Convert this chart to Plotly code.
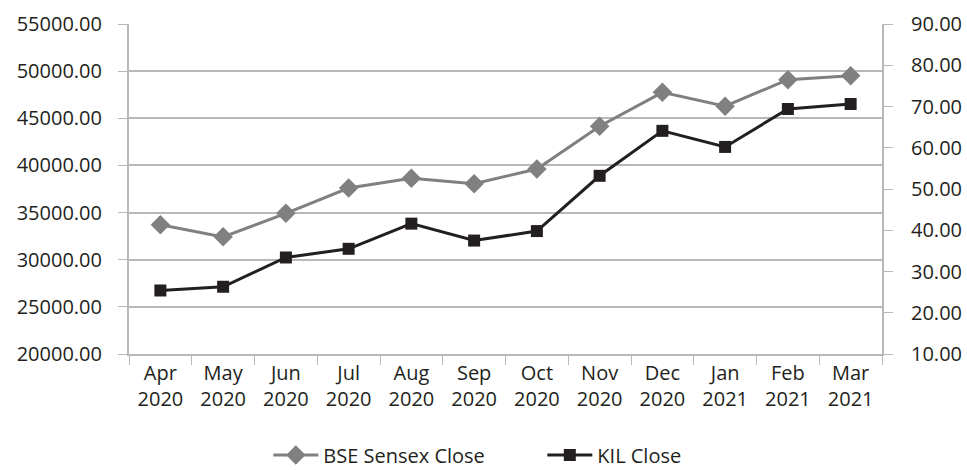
import plotly.graph_objects as go

months = ["Apr<br>2020", "May<br>2020", "Jun<br>2020", "Jul<br>2020", "Aug<br>2020", "Sep<br>2020",
          "Oct<br>2020", "Nov<br>2020", "Dec<br>2020", "Jan<br>2021", "Feb<br>2021", "Mar<br>2021"]
bse_close = [33717, 32424, 34916, 37607, 38628, 38068, 39614, 44150, 47751, 46286, 49100, 49509]
kil_close = [25.4, 26.3, 33.4, 35.5, 41.6, 37.5, 39.8, 53.2, 64.1, 60.2, 69.4, 70.6]

FONT = "Open Sans"
FS = 20
AX = "#b8b8b8"

fig = go.Figure()
fig.add_trace(go.Scatter(
    x=months, y=bse_close, name="BSE Sensex Close", mode="lines+markers",
    line=dict(color="#808080", width=3),
    marker=dict(symbol="diamond", size=15, color="#808080"),
))
fig.add_trace(go.Scatter(
    x=months, y=kil_close, name="KIL Close", mode="lines+markers", yaxis="y2",
    line=dict(color="#231f20", width=3),
    marker=dict(symbol="square", size=12, color="#231f20"),
))

fig.update_layout(
    width=967, height=470,
    margin=dict(l=129, r=85, t=24, b=116, autoexpand=False),
    paper_bgcolor="white", plot_bgcolor="white",
    font=dict(family=FONT, size=FS, color="#231f20"),
    showlegend=True,
    legend=dict(orientation="h", x=0.185, xanchor="left", y=-0.306, yanchor="middle",
                font=dict(family=FONT, size=FS, color="#231f20"),
                entrywidth=214, entrywidthmode="pixels", itemwidth=45),
    xaxis=dict(
        type="category", range=[-0.5, len(months) - 0.5],
        tickson="boundaries", ticks="outside", ticklen=9, tickcolor=AX,
        showline=True, linecolor=AX, linewidth=2, showgrid=False, automargin=False,
        tickfont=dict(family=FONT, size=FS, color="#231f20"),
    ),
    yaxis=dict(
        range=[20000, 55000], dtick=5000, tickformat=".2f",
        ticks="outside", ticklen=9, tickcolor=AX,
        showline=True, linecolor=AX, linewidth=2, automargin=False,
        showgrid=True, gridcolor=AX, gridwidth=2, zeroline=False,
        ticklabelstandoff=12,
        tickfont=dict(family=FONT, size=FS, color="#231f20"),
    ),
    yaxis2=dict(
        overlaying="y", side="right", range=[10, 90], dtick=10, tickformat=".2f",
        ticks="outside", ticklen=9, tickcolor=AX, automargin=False,
        showline=True, linecolor=AX, linewidth=2, showgrid=False, zeroline=False,
        ticklabelstandoff=14,
        tickfont=dict(family=FONT, size=FS, color="#231f20"),
    ),
)

fig.write_html("out.html", config={"displayModeBar": False},
               post_script="document.body.style.margin='0';")
